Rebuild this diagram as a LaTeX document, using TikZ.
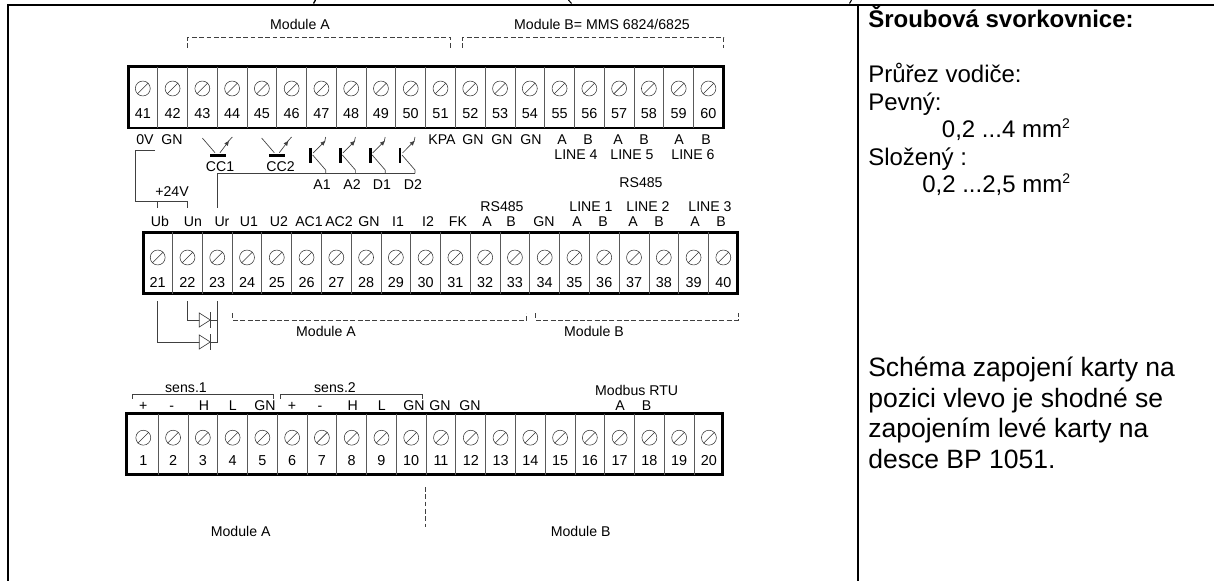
\documentclass[tikz,border=0pt]{standalone}
\usepackage{fontspec}
\setmainfont{Liberation Sans}
\usetikzlibrary{positioning,arrows.meta}
\tikzstyle{strip} = [draw=black, fill=white, line width=2.2pt, rectangle, inner sep=0pt]
\tikzstyle{divider} = [draw=black!65, line width=0.6pt]
\tikzstyle{screw} = [draw=black!80, circle, line width=0.4pt, minimum size=11.2pt, inner sep=0pt]
\tikzstyle{slash} = [draw=black!80, line width=0.4pt]
\tikzstyle{num} = [font=\fontsize{10.8}{12}\selectfont, inner sep=0pt, anchor=base]
\tikzstyle{lbl} = [font=\fontsize{10.6}{12}\selectfont, inner sep=0pt, anchor=base]
\tikzstyle{note} = [font=\fontsize{18}{21}\selectfont, inner sep=0pt, anchor=base west]
\tikzstyle{bignote} = [note, font=\fontsize{19.9}{23}\selectfont]
\tikzstyle{wire} = [draw=black!75, line width=0.5pt]
\tikzstyle{modline} = [draw=black!75, line width=0.4pt, dash pattern=on 3.6pt off 1.9pt]
\tikzstyle{frame} = [draw=black, line width=1.5pt]
\tikzstyle{ctip} = [-{Latex[length=4pt,width=3.4pt]}]

\newcommand{\squared}{\raisebox{7pt}{\fontsize{10.5}{11}\selectfont 2}}

\newcommand{\terminals}[4]{%
  \foreach \k in {0,...,19} {
    \pgfmathtruncatemacro{\n}{#1+\k}
    \node [screw] (s\n) at ({#2+29.77*\k},#3) {};
    \draw [slash] (s\n.225) -- (s\n.45);
    \node [num] (n\n) at ({#2+29.77*\k},#4) {\n};
  }%
}

\newcommand{\cuts}[3]{%
  \foreach \k in {0,...,18} {
    \draw [divider] ({#1+14.88+29.77*\k},#2) -- ({#1+14.88+29.77*\k},#3);
  }%
}

\newcommand{\optotr}[1]{%
  \draw [wire] (#1,138) -- ({#1+12.7},152.7);
  \draw [black, line width=2.2pt] ({#1+7.7},155.7) -- ({#1+23.4},155.7);
  \draw [wire, ctip] ({#1+17.7},152.7) -- ({#1+27},140.4);
  \draw [wire] ({#1+26},141.4) -- ({#1+30},137);
}

\newcommand{\transtr}[1]{%
  \draw [black, line width=2.2pt] ({#1-15},148) -- ({#1-15},163);
  \draw [wire, ctip] ({#1-12.5},153) -- (#1,140.4);
  \draw [wire] ({#1-1},141.4) -- (#1,137);
  \draw [wire] ({#1-13},155) -- (#1,170) -- (#1,173.5);
}

\newcommand{\diode}[2]{%
  \draw [wire, fill=white] (#1,{#2-7}) -- ({#1+11},#2) -- (#1,{#2+7}) -- cycle;
  \draw [wire] ({#1+11},{#2-8}) -- ({#1+11},{#2+8});
}

\begin{document}
\begin{tikzpicture}[x=0.75pt,y=-0.75pt]
\useasboundingbox (0,0) rectangle (1214,581);

\coordinate (frameTL) at (7.5,5);
\coordinate (frameBL) at (7.5,581);
\coordinate (frameTR) at (1214,5);
\coordinate (midT) at (858,5);
\coordinate (midB) at (858,581);
\draw [frame] (frameBL) -- (frameTL) -- (frameTR);
\draw [frame] (midT) -- (midB);
\draw [black, line width=1pt] (315.5,0) -- (313.5,3.5);
\draw [black, line width=0.8pt] (568.5,0) -- (571.5,3.5);
\draw [black, line width=0.8pt] (851.5,0) -- (849.5,3.5);

\node [strip, minimum width=446.6pt, minimum height=45.8pt] (stripT) at (426,97.5) {};
\node [strip, minimum width=445.9pt, minimum height=46.1pt] (stripM) at (440.5,263.2) {};
\node [strip, minimum width=447pt, minimum height=46.1pt] (stripB) at (424.5,444.2) {};
\cuts{142.8}{67}{128}
\cuts{157.7}{232.5}{294}
\cuts{143.3}{413.5}{474.8}
\terminals{41}{142.8}{88.5}{119}
\terminals{21}{157.7}{257.5}{287}
\terminals{1}{143.3}{437.7}{465}

\node [lbl] (modAt) at (300,30) {Module A};
\node [lbl] (modBt) at (602,30) {Module B= MMS 6824/6825};
\coordinate (brAta) at (187.7,48);
\coordinate (brAtb) at (450.5,48);
\coordinate (brAtc) at (187.7,37.5);
\coordinate (brBta) at (462.7,48);
\coordinate (brBtb) at (723.7,48);
\coordinate (brBtc) at (462.7,37.5);
\draw [modline] (brAta) -- (brAtc) -| (brAtb);
\draw [modline] (brBta) -- (brBtc) -| (brBtb);

\foreach \x/\t [count=\i] in {145/0V,172/GN,442/KPA,473/GN,502/GN,531/GN,562/A,588/B,618/A,644/B,679/A,706/B}
  \node [lbl] (up\i) at (\x,145) {\t};
\node [lbl] (line4) at (576,160) {LINE 4};
\node [lbl] (line5) at (632,160) {LINE 5};
\node [lbl] (line6) at (693,160) {LINE 6};
\node [lbl] (rsT) at (641,188) {RS485};

\optotr{202.3}
\optotr{261.6}
\node [lbl] (cc1) at (220,172) {CC1};
\node [lbl] (cc2) at (280.6,172) {CC2};
\transtr{325.7}
\transtr{355.4}
\transtr{385.2}
\transtr{415}
\node [lbl] (a1) at (322,190) {A1};
\node [lbl] (a2) at (352,190) {A2};
\node [lbl] (d1) at (382,190) {D1};
\node [lbl] (d2) at (413,190) {D2};

\coordinate (zero) at (155,150);
\coordinate (zeroc) at (135.7,201);
\coordinate (inUb) at (157.7,208);
\coordinate (inUn) at (187.7,208);
\coordinate (inUr) at (217.7,208);
\coordinate (busE) at (415,173.5);
\draw [wire] (zero) -| (zeroc) -| (inUn);
\draw [wire] (inUb) -- (inUb |- zeroc);
\draw [wire] (inUr) |- (busE);
\node [lbl] (plus24) at (172,197) {+24V};

\foreach \x/\t [count=\i] in {160/Ub,193/Un,222/Ur,249/U1,279/U2,309/AC1,339/AC2,369/GN,398/I1,428/I2,458/FK,487/A,511/B,544/GN,577/A,603/B,633/A,659/B,695/A,721/B}
  \node [lbl] (mid\i) at (\x,227) {\t};
\node [lbl] (rsM) at (502,212) {RS485};
\node [lbl] (line1) at (591,212) {LINE 1};
\node [lbl] (line2) at (648,212) {LINE 2};
\node [lbl] (line3) at (710,212) {LINE 3};

\coordinate (outUb) at (157.7,301);
\coordinate (outUn) at (187.7,301);
\coordinate (outUr) at (217.7,301);
\coordinate (dioA) at (217.7,320);
\coordinate (dioB) at (217.7,342);
\draw [wire] (outUb) |- (dioB);
\draw [wire] (outUn) |- (dioA);
\draw [wire] (outUr) -- (dioB);
\diode{199.3}{320}
\diode{199.3}{342}

\coordinate (brAma) at (232.7,313);
\coordinate (brAmb) at (526.7,313);
\coordinate (brBma) at (535.7,313);
\coordinate (brBmb) at (738.3,313);
\coordinate (brAmc) at (232.7,320);
\coordinate (brBmc) at (535.7,320);
\draw [modline] (brAma) -- (brAmc) -| (brAmb);
\draw [modline] (brBma) -- (brBmc) -| (brBmb);
\node [lbl] (modAm) at (326,336) {Module A};
\node [lbl] (modBm) at (594,336) {Module B};

\node [lbl] (sens1) at (186,392) {sens.1};
\node [lbl] (sens2) at (335,392) {sens.2};
\coordinate (brSa) at (132,398.5);
\coordinate (brSb) at (273.3,398.5);
\coordinate (brSc) at (280.7,398.5);
\coordinate (brSd) at (422.3,398.5);
\coordinate (brSe) at (132,394.3);
\coordinate (brSf) at (280.7,394.3);
\draw [wire] (brSa) -- (brSe) -| (brSb);
\draw [wire] (brSc) -- (brSf) -| (brSd);

\foreach \x/\t [count=\i] in {143.3/+,171.7/-,204/H,232.7/L,265/GN,292/+,320/-,352.7/H,381.7/L,414/GN,440/GN,470/GN,620/A,646.7/B}
  \node [lbl] (low\i) at (\x,410) {\t};
\node [lbl] (modbus) at (636.7,395) {Modbus RTU};

\coordinate (splitA) at (425.7,487);
\coordinate (splitB) at (425.7,527);
\draw [modline] (splitA) -- (splitB);
\node [lbl] (modAb) at (240.7,536) {Module A};
\node [lbl] (modBb) at (580.7,536) {Module B};

\node [note, font=\fontsize{18}{21}\selectfont\bfseries] (head) at (868,28) {Šroubová svorkovnice:};
\node [note] (txt1) at (868,83) {Průřez vodiče:};
\node [note] (txt2) at (868,110.5) {Pevný:};
\node [note] (txt3) at (941.7,138) {0,2 ...4 mm\squared};
\node [note] (txt4) at (868,165.5) {Složený :};
\node [note] (txt5) at (922,193) {0,2 ...2,5 mm\squared};
\node [bignote] (txt6) at (868,376.5) {Schéma zapojení karty na};
\node [bignote] (txt7) at (868,407) {pozici vlevo je shodné se};
\node [bignote] (txt8) at (868,437.5) {zapojením levé karty na};
\node [bignote] (txt9) at (868,468) {desce BP 1051.};

\end{tikzpicture}
\end{document}
